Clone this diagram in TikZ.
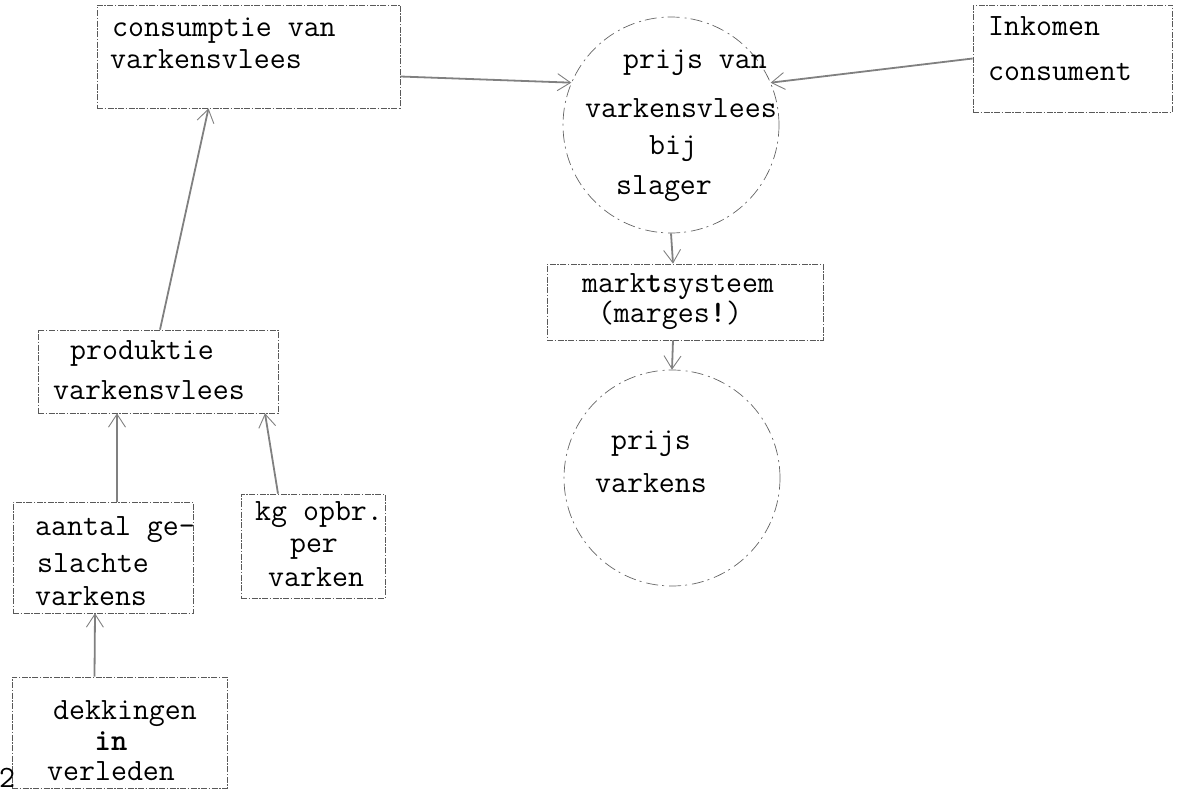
\documentclass[tikz,border=0pt]{standalone}
\usepackage{fontspec}
\newcommand\twf{\ttfamily\fontsize{31}{36}\selectfont}
\usetikzlibrary{arrows.meta}
\begin{document}
\begin{tikzpicture}[x=1pt,y=-1pt,
  box/.style={draw=black!65, line width=0.7pt, dash pattern=on 6pt off 1.5pt on 1.5pt off 1.5pt, inner sep=0pt},
  ring/.style={circle, draw=black!60, line width=0.7pt, dash pattern=on 12pt off 4pt on 2pt off 5pt, inner sep=0pt, minimum size=216pt},
  lbl/.style={font=\twf, inner sep=0pt, text=black},
  conn/.style={draw=black!50, line width=1.8pt, -{Straight Barb[length=13pt,width=17pt,line width=0.9pt]}}]
\useasboundingbox (0,0) rectangle (1178,800);

% boxes and circles
\node[box, minimum width=303pt, minimum height=103pt] (cons) at (248.5,56.5) {};
\node[ring] (prijs) at (671,125) {};
\node[box, minimum width=199pt, minimum height=107pt] (ink) at (1072.5,58.5) {};
\node[box, minimum width=276pt, minimum height=76pt] (markt) at (685,302) {};
\node[ring] (prijsv) at (672,478) {};
\node[box, minimum width=240pt, minimum height=83pt] (prod) at (158,371.5) {};
\node[box, minimum width=180pt, minimum height=111pt] (aant) at (103,557.5) {};
\node[box, minimum width=144pt, minimum height=104pt] (kg) at (313,546) {};
\node[box, minimum width=215pt, minimum height=111pt] (dek) at (119.5,732.5) {};

% texts
\node[lbl, anchor=mid west] (t1) at (112,34) {consumptie van};
\node[lbl, anchor=mid west] (t2) at (110,66) {varkensvlees};
\node[lbl, anchor=mid] (t3) at (695,66) {prijs van};
\node[lbl, anchor=mid] (t4) at (681,115) {varkensvlees};
\node[lbl, anchor=mid] (t5) at (673,152) {bij};
\node[lbl, anchor=mid] (t6) at (664,192) {slager};
\node[lbl, anchor=mid west] (t7) at (988,33) {Inkomen};
\node[lbl, anchor=mid west] (t8) at (988,78) {consument};
\node[lbl, anchor=mid] (t9) at (678,290) {mark{\bfseries t}systeem};
\node[lbl, anchor=mid] (t10) at (670,320) {(marges{\bfseries !})};
\node[lbl, anchor=mid] (t11) at (651,447) {prijs};
\node[lbl, anchor=mid] (t12) at (651,490) {varkens};
\node[lbl, anchor=mid west] (t13) at (70,357) {produktie};
\node[lbl, anchor=mid west] (t14) at (53,397) {varkensvlees};
\node[lbl, anchor=mid west] (t15) at (35,533) {aantal ge-};
\node[lbl, anchor=mid west] (t16) at (37,570) {slachte};
\node[lbl, anchor=mid west] (t17) at (35,603) {varkens};
\node[lbl, anchor=mid west] (t18) at (255,518) {kg opbr.};
\node[lbl, anchor=mid] (t19) at (314,550) {per};
\node[lbl, anchor=mid west] (t20) at (268,584) {varken};
\node[lbl, anchor=mid west] (t21) at (53,717) {dekkingen};
\node[lbl, anchor=mid] (t22) at (111,748) {\bfseries in};
\node[lbl, anchor=mid west] (t23) at (47,778) {verleden};
\node[lbl, anchor=mid west] (pg) at (-1,785) {2};

% connectors
\draw[conn] ([yshift=-20pt]cons.east) -- (prijs.157);
\draw[conn] (ink.west) -- (prijs.23);
\draw[conn] ([xshift=2pt]prod.north) -- ([xshift=-40pt]cons.south);
\draw[conn] ([xshift=14pt]aant.north) -- ([xshift=-41pt]prod.south);
\draw[conn] ([xshift=-35pt]kg.north) -- ([xshift=107pt]prod.south);
\draw[conn] ([xshift=-25pt]dek.north) -- ([xshift=-8pt]aant.south);
\draw[conn] (prijs.south) -- ([xshift=-12pt]markt.north);
\draw[conn] ([xshift=-12pt]markt.south) -- (prijsv.north);
\end{tikzpicture}
\end{document}
